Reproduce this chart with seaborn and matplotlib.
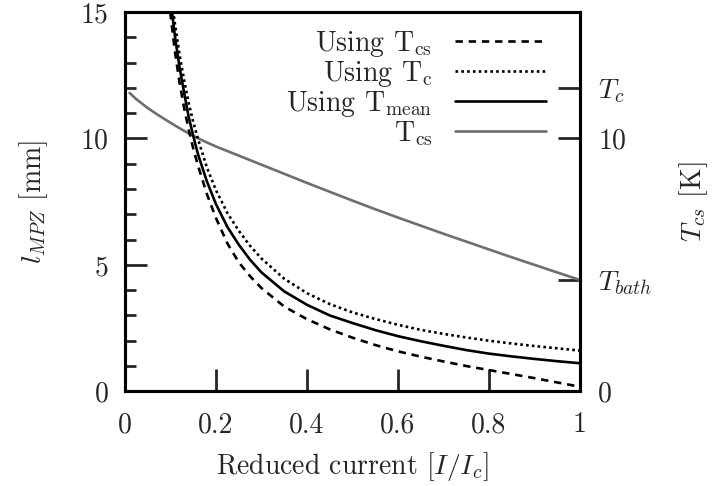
import numpy as np
import pandas as pd
import matplotlib
matplotlib.use("Agg")
import matplotlib.pyplot as plt
import seaborn as sns

# ---- data ----
current = [0.09, 0.10, 0.11, 0.12, 0.13, 0.14, 0.15, 0.16, 0.18, 0.20, 0.225, 0.25, 0.275,
           0.30, 0.35, 0.40, 0.45, 0.50, 0.55, 0.60, 0.65, 0.70, 0.75, 0.80, 0.85, 0.90, 0.95, 1.00]
l_using_tcs = [16.7, 14.9, 13.4, 12.2, 11.2, 10.35, 9.6, 8.95, 7.8, 6.85, 5.85, 5.1, 4.55,
               4.08, 3.35, 2.85, 2.45, 2.12, 1.83, 1.58, 1.37, 1.18, 1.0, 0.84, 0.68, 0.52, 0.35, 0.18]
l_using_tc = [17.7, 15.9, 14.5, 13.3, 12.3, 11.4, 10.65, 10.0, 8.85, 7.95, 7.05, 6.35, 5.75,
              5.25, 4.45, 3.88, 3.45, 3.12, 2.86, 2.63, 2.43, 2.27, 2.13, 2.0, 1.89, 1.79, 1.70, 1.61]
l_using_tmean = [17.2, 15.5, 14.0, 12.8, 11.8, 10.85, 10.1, 9.4, 8.3, 7.4, 6.5, 5.8, 5.2,
                 4.7, 3.95, 3.42, 3.0, 2.7, 2.42, 2.18, 1.98, 1.8, 1.63, 1.49, 1.38, 1.28, 1.19, 1.11]

current_t = [0.01, 0.025, 0.05, 0.075, 0.10, 0.125, 0.15, 0.175, 0.20, 0.25, 0.30, 0.35, 0.40,
             0.45, 0.50, 0.55, 0.60, 0.65, 0.70, 0.75, 0.80, 0.85, 0.90, 0.95, 1.00]
t_cs = [11.8, 11.55, 11.2, 10.9, 10.62, 10.35, 10.1, 9.88, 9.68, 9.32, 8.96, 8.6, 8.24,
        7.89, 7.54, 7.2, 6.87, 6.55, 6.23, 5.92, 5.61, 5.3, 5.0, 4.7, 4.4]

T_c = 12.0
T_bath = 4.4
left_ticks = [0, 5, 10, 15]
right_ticks = [0, T_bath, 10, T_c]
right_ticklabels = ["0", r"$T_{bath}$", "10", r"$T_c$"]
x_ticks = [0, 0.2, 0.4, 0.6, 0.8, 1.0]
x_ticklabels = ["0", "0.2", "0.4", "0.6", "0.8", "1"]

sns.set_style("ticks")
plt.rcParams["font.family"] = ["cmr10", "DejaVu Serif"]
plt.rcParams["mathtext.fontset"] = "cm"
plt.rcParams["axes.unicode_minus"] = False

fig = plt.figure(figsize=(7.14, 4.86), dpi=100)
ax = fig.add_axes([125 / 714, 1 - 391.3 / 486, 455 / 714, 379.3 / 486])

df = pd.DataFrame({"x": current, "tcs": l_using_tcs, "tc": l_using_tc, "tmean": l_using_tmean})
dft = pd.DataFrame({"x": current_t, "T": t_cs})

lw = 1.9
sns.lineplot(data=df, x="x", y="tcs", ax=ax, color="black", lw=lw,
             linestyle=(0, (2.8, 2.2)), label=r"Using T$_{\rm cs}$")
sns.lineplot(data=df, x="x", y="tc", ax=ax, color="black", lw=lw,
             linestyle=(0, (1.0, 1.2)), label=r"Using T$_{\rm c}$")
sns.lineplot(data=df, x="x", y="tmean", ax=ax, color="black", lw=lw,
             linestyle="-", label=r"Using T$_{\rm mean}$")

ax2 = ax.twinx()
sns.lineplot(data=dft, x="x", y="T", ax=ax2, color="#6e6e6e", lw=lw,
             linestyle="-", legend=False)

ax.set_xlim(0, 1)
ax.set_ylim(0, 15)
ax2.set_ylim(0, 15)

fs = 20
ax.set_xticks(x_ticks)
ax.set_xticklabels(x_ticklabels, fontsize=fs)
ax.set_yticks(left_ticks)
ax.set_yticklabels([str(t) for t in left_ticks], fontsize=fs)
ax.set_yticks(np.arange(0, 15, 1), minor=True)
ax.tick_params(axis="y", which="major", direction="in", length=16, width=2, pad=12, left=True, right=False)
ax.tick_params(axis="y", which="minor", direction="in", length=8, width=2, left=True, right=False)
ax.tick_params(axis="x", which="major", direction="in", length=16, width=2, pad=15, top=False)

ax2.set_yticks(right_ticks)
ax2.set_yticklabels(right_ticklabels, fontsize=fs)
ax2.tick_params(axis="y", direction="in", length=16, width=2, pad=13, right=True, left=False)

for a in (ax, ax2):
    for s in a.spines.values():
        s.set_visible(True)
        s.set_linewidth(2.2)
        s.set_color("black")

ax.set_xlabel(r"Reduced current [$I/I_c$]", fontsize=fs, labelpad=8)
ax.set_ylabel(r"$l_{MPZ}$ [mm]", fontsize=fs, labelpad=22)
ax2.set_ylabel(r"$T_{cs}$ [K]", fontsize=fs, labelpad=18)

h1, l1 = ax.get_legend_handles_labels()
h2 = ax2.get_lines()[:1]
leg = ax.legend(h1 + h2, l1 + [r"T$_{\rm cs}$"], loc="upper right",
                bbox_to_anchor=(0.926, 0.955), frameon=False, markerfirst=False,
                fontsize=fs, handlelength=3.3, handletextpad=0.8,
                labelspacing=0.0, borderpad=0, borderaxespad=0)
for t in leg.get_texts():
    t.set_ha("right")
ax2.set_zorder(0)
ax.set_zorder(1)
ax.patch.set_visible(False)

fig.savefig("out.png", dpi=100)
